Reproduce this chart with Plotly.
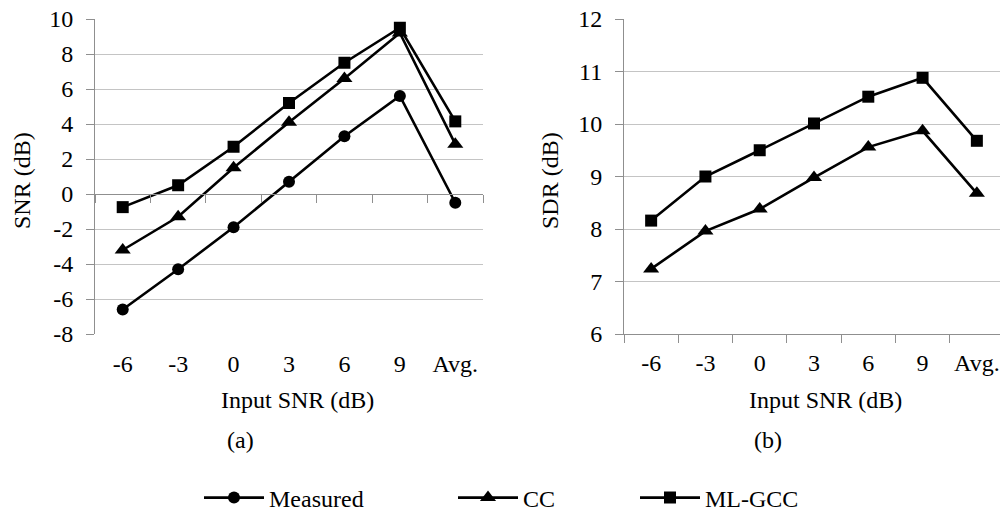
import plotly.graph_objects as go

categories = ["-6", "-3", "0", "3", "6", "9", "Avg."]

# (a) SNR (dB)
snr_measured = [-6.6, -4.3, -1.9, 0.7, 3.3, 5.6, -0.5]
snr_cc = [-3.2, -1.3, 1.5, 4.1, 6.6, 9.2, 2.85]
snr_mlgcc = [-0.75, 0.5, 2.7, 5.2, 7.5, 9.5, 4.15]
snr_ticks = [10, 8, 6, 4, 2, 0, -2, -4, -6, -8]
snr_ticklabels = ["10", "8", "6", "4", "2", "0", "-2", "-4", "-6", "-8"]

# (b) SDR (dB)
sdr_cc = [7.24, 7.96, 8.38, 8.98, 9.56, 9.87, 8.68]
sdr_mlgcc = [8.16, 9.0, 9.5, 10.01, 10.52, 10.88, 9.68]
sdr_ticks = [12, 11, 10, 9, 8, 7, 6]
sdr_ticklabels = ["12", "11", "10", "9", "8", "7", "6"]

# page has an 8px body margin; figure is sized to fit the 1008x521 window
OFF = 8
W, H = 1000, 505
FONT = "Liberation Serif"
FS = 24
GRID = "#c4c4c4"
AXIS = "#8f8f8f"

def px_x(p):
    return (p - OFF) / W

def px_y(p):
    return 1 - (p - OFF) / H

yd = [px_y(334), px_y(19)]
xd1 = [px_x(95), px_x(483)]
xd2 = [px_x(624), px_x(1004)]

line_style = dict(color="black", width=2.6)

fig = go.Figure()

fig.add_trace(go.Scatter(x=categories, y=snr_measured, name="Measured", mode="lines+markers",
                         line=line_style, marker=dict(symbol="circle", size=12, color="black"),
                         xaxis="x", yaxis="y", legend="legend"))
fig.add_trace(go.Scatter(x=categories, y=snr_cc, name="CC", mode="lines+markers",
                         line=line_style, marker=dict(symbol="triangle-up", size=14, color="black"),
                         xaxis="x", yaxis="y", legend="legend2"))
fig.add_trace(go.Scatter(x=categories, y=snr_mlgcc, name="ML-GCC", mode="lines+markers",
                         line=line_style, marker=dict(symbol="square", size=12, color="black"),
                         xaxis="x", yaxis="y", legend="legend3"))

fig.add_trace(go.Scatter(x=categories, y=sdr_cc, name="CC", mode="lines+markers",
                         line=line_style, marker=dict(symbol="triangle-up", size=14, color="black"),
                         xaxis="x2", yaxis="y2", showlegend=False))
fig.add_trace(go.Scatter(x=categories, y=sdr_mlgcc, name="ML-GCC", mode="lines+markers",
                         line=line_style, marker=dict(symbol="square", size=12, color="black"),
                         xaxis="x2", yaxis="y2", showlegend=False))

zero_pos = yd[0] + (0 - (-8)) / (10 - (-8)) * (yd[1] - yd[0])

xcommon = dict(type="category", categoryorder="array", categoryarray=categories,
               range=[-0.5, 6.5], showgrid=False, zeroline=False,
               showline=True, linecolor=AXIS, linewidth=1,
               ticks="outside", ticklen=8, tickcolor=AXIS, tickwidth=1,
               tickson="boundaries", tickangle=0,
               tickfont=dict(family=FONT, size=FS, color="black"))

ycommon = dict(showgrid=True, gridcolor=GRID, gridwidth=1, zeroline=False,
               showline=True, linecolor=AXIS, linewidth=1,
               ticks="outside", ticklen=8, tickcolor=AXIS, tickwidth=1,
               ticklabelstandoff=8, tickmode="array", ticklabeloverflow="allow",
               tickfont=dict(family=FONT, size=FS, color="black"))

leg = dict(yanchor="middle", xanchor="left", orientation="h", itemwidth=60,
           bgcolor="rgba(0,0,0,0)", font=dict(family=FONT, size=FS, color="black"))

fig.update_layout(
    width=W, height=H,
    margin=dict(l=0, r=0, t=0, b=0, autoexpand=False),
    paper_bgcolor="white", plot_bgcolor="white",
    font=dict(family=FONT, size=FS, color="black"),
    xaxis=dict(domain=xd1, anchor="free", position=zero_pos, ticklabelstandoff=148, **xcommon),
    yaxis=dict(domain=yd, anchor="x", range=[-8, 10], tickvals=snr_ticks,
               ticktext=snr_ticklabels, **ycommon),
    xaxis2=dict(domain=xd2, anchor="y2", ticklabelstandoff=7, **xcommon),
    yaxis2=dict(domain=yd, anchor="x2", range=[6, 12], tickvals=sdr_ticks,
                ticktext=sdr_ticklabels, **ycommon),
    legend=dict(x=px_x(199), y=px_y(498), **leg),
    legend2=dict(x=px_x(453), y=px_y(498), **leg),
    legend3=dict(x=px_x(635), y=px_y(498), **leg),
    annotations=[
        dict(text="SNR (dB)", x=px_x(22), y=px_y(181), xref="paper", yref="paper",
             textangle=-90, showarrow=False, xanchor="center", yanchor="middle"),
        dict(text="SDR (dB)", x=px_x(550), y=px_y(181), xref="paper", yref="paper",
             textangle=-90, showarrow=False, xanchor="center", yanchor="middle"),
        dict(text="Input SNR (dB)", x=px_x(297), y=px_y(400), xref="paper", yref="paper",
             showarrow=False, xanchor="center", yanchor="middle"),
        dict(text="Input SNR (dB)", x=px_x(825), y=px_y(400), xref="paper", yref="paper",
             showarrow=False, xanchor="center", yanchor="middle"),
        dict(text="(a)", x=px_x(240), y=px_y(440), xref="paper", yref="paper",
             showarrow=False, xanchor="center", yanchor="middle"),
        dict(text="(b)", x=px_x(768), y=px_y(440), xref="paper", yref="paper",
             showarrow=False, xanchor="center", yanchor="middle"),
    ],
)

fig.write_html("out.html")
